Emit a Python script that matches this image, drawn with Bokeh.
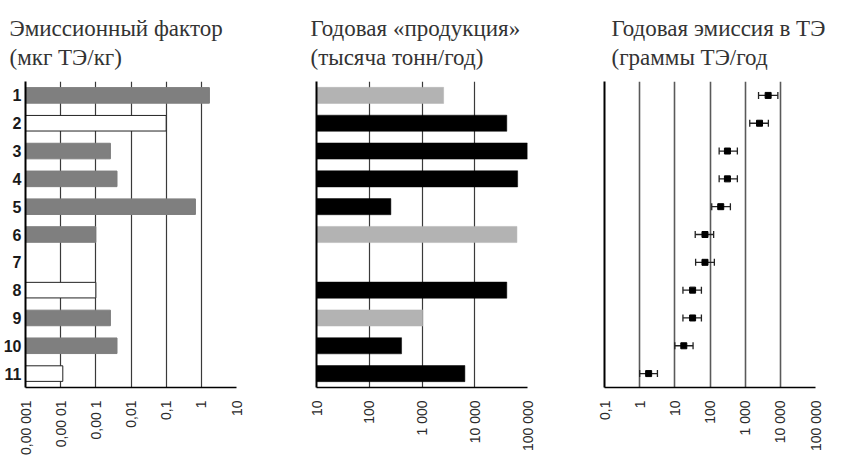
import math
from bokeh.plotting import figure
from bokeh.models import (ColumnDataSource, FixedTicker, Range1d, Title, Whisker,
                          TeeHead, CustomJSTickFormatter)
from bokeh.layouts import row
from bokeh.embed import file_html
from bokeh.resources import INLINE

# ---------------- data ----------------
rows = [1, 2, 3, 4, 5, 6, 7, 8, 9, 10, 11]

# Panel 1: emission factor (µg TEQ/kg)
ef_values = [1.7, 0.1, 0.0026, 0.004, 0.68, 0.001, None, 0.001, 0.0026, 0.004, 0.000115]
ef_kind = ["filled", "open", "filled", "filled", "filled", "filled", None,
           "open", "filled", "filled", "open"]

# Panel 2: annual production (thousand t/year)
prod_values = [2570, 40500, 100000, 65000, 257, 63000, None, 40500, 1035, 410, 6500]
prod_kind = ["light", "dark", "dark", "dark", "dark", "light", None,
             "dark", "light", "dark", "dark"]

# Panel 3: annual emission (g TEQ/year) with ranges
em_center = [4500, 2560, 313, 313, 202, 72, 72, 32, 32, 18, 1.8]
em_low = [2400, 1350, 182, 182, 112, 38, 39, 17, 17, 10, 1.0]
em_high = [8500, 4570, 600, 600, 380, 127, 133, 57, 57, 33, 3.2]

ef_ticks = [1e-5, 1e-4, 1e-3, 1e-2, 1e-1, 1, 10]
ef_tick_labels = ["0,00 001", "0,00 01", "0,00 1", "0,01", "0,1", "1", "10"]
prod_ticks = [10, 100, 1000, 10000, 100000]
prod_tick_labels = ["10", "100", "1 000", "10 000", "100 000"]
em_ticks = [0.1, 1, 10, 100, 1000, 10000, 100000]
em_tick_labels = ["0,1", "1", "10", "100", "1 000", "10 000", "100 000"]

titles = [("Эмиссионный фактор", "(мкг ТЭ/кг)"),
          ("Годовая «продукция»", "(тысяча тонн/год)"),
          ("Годовая эмиссия в ТЭ", "(граммы ТЭ/год")]

TITLE_FONT = "Liberation Serif"
SANS = "Liberation Sans"
FIG_H = 461


def make_fig(width, bl, br, ticks, labels, title_lines, title_offset, grid_color, grid_width):
    p = figure(width=width, height=FIG_H, x_axis_type="log",
               x_range=Range1d(ticks[0], ticks[-1]), y_range=Range1d(11.5, 0.5),
               output_backend="svg", toolbar_location=None,
               min_border_left=bl, min_border_right=br,
               min_border_top=81, min_border_bottom=74)
    p.outline_line_color = None
    p.xaxis.ticker = FixedTicker(ticks=ticks)
    p.xaxis.formatter = CustomJSTickFormatter(args=dict(tv=ticks, tl=labels), code="""
        for (let i = 0; i < tv.length; i++) {
            if (Math.abs(Math.log10(tv[i]) - Math.log10(tick)) < 1e-6) return tl[i];
        }
        return '';
    """)
    p.xaxis.major_label_orientation = math.pi / 2
    p.xaxis.major_label_standoff = 13
    p.xaxis.major_label_text_font = SANS
    p.xaxis.major_label_text_font_size = "14px"
    p.xaxis.major_label_text_color = "#2a2a2a"
    p.xaxis.major_tick_out = 0
    p.xaxis.major_tick_in = 0
    p.xaxis.minor_tick_out = 0
    p.xaxis.minor_tick_in = 0
    p.xaxis.axis_line_color = "black"
    p.xaxis.axis_line_width = 1.5
    p.xgrid.ticker = FixedTicker(ticks=ticks)
    p.xgrid.grid_line_color = grid_color
    p.xgrid.grid_line_width = grid_width
    p.ygrid.visible = False
    p.yaxis.major_tick_out = 0
    p.yaxis.major_tick_in = 0
    p.yaxis.minor_tick_out = 0
    p.yaxis.minor_tick_in = 0
    p.yaxis.axis_line_color = "black"
    p.yaxis.axis_line_width = 2
    p.add_layout(Title(text=title_lines[0] + "\n" + title_lines[1], align="left",
                       offset=title_offset, text_font=TITLE_FONT, text_font_size="23px",
                       text_line_height=1.17,
                       text_font_style="normal", text_color="#333333", standoff=23), "above")
    return p


# ---------------- panel 1 ----------------
p1 = make_fig(298, 25, 62, ef_ticks, ef_tick_labels, titles[0], -16, "#3a3a3a", 1.2)
p1.yaxis.ticker = FixedTicker(ticks=rows)
p1.yaxis.major_label_text_font = SANS
p1.yaxis.major_label_text_font_style = "bold"
p1.yaxis.major_label_text_font_size = "16px"
p1.yaxis.major_label_text_color = "#1a1a1a"
p1.yaxis.major_label_standoff = 4

ef_fill = {"filled": "#7f7f7f", "open": "white"}
ef_line = {"filled": "#7f7f7f", "open": "#222222"}
r1 = [(r, v, k) for r, v, k in zip(rows, ef_values, ef_kind) if v is not None]
src1 = ColumnDataSource(dict(
    y=[a[0] for a in r1], right=[a[1] for a in r1],
    left=[ef_ticks[0]] * len(r1),
    fill=[ef_fill[a[2]] for a in r1], line=[ef_line[a[2]] for a in r1]))
p1.hbar(y="y", left="left", right="right", height=0.56, source=src1,
        fill_color="fill", line_color="line", line_width=1)

# ---------------- panel 2 ----------------
p2 = make_fig(290, 18, 61, prod_ticks, prod_tick_labels, titles[1], -6, "#3a3a3a", 1.2)
p2.yaxis.ticker = FixedTicker(ticks=[])
p2.yaxis.major_label_text_font_size = "0px"
p2.yaxis.major_label_standoff = 0

prod_fill = {"light": "#b3b3b3", "dark": "#000000"}
r2 = [(r, v, k) for r, v, k in zip(rows, prod_values, prod_kind) if v is not None]
src2 = ColumnDataSource(dict(
    y=[a[0] for a in r2], right=[a[1] for a in r2],
    left=[prod_ticks[0]] * len(r2),
    fill=[prod_fill[a[2]] for a in r2]))
p2.hbar(y="y", left="left", right="right", height=0.58, source=src2,
        fill_color="fill", line_color="fill", line_width=0.5)

# ---------------- panel 3 ----------------
p3 = make_fig(266, 16, 39, em_ticks, em_tick_labels, titles[2], 7, "#5a5a5a", 1.6)
p3.yaxis.ticker = FixedTicker(ticks=[])
p3.yaxis.major_label_text_font_size = "0px"
p3.yaxis.major_label_standoff = 0

src3 = ColumnDataSource(dict(y=rows, x=em_center, low=em_low, high=em_high))
p3.add_layout(Whisker(source=src3, base="y", lower="low", upper="high", dimension="width",
                      line_color="#222222", line_width=1.3,
                      lower_head=TeeHead(size=7, line_color="#222222", line_width=1.3),
                      upper_head=TeeHead(size=7, line_color="#222222", line_width=1.3)))
p3.scatter(x="x", y="y", source=src3, marker="square", size=6,
           fill_color="black", line_color="black")

layout = row(p1, p2, p3)
open("out.html", "w").write(file_html(layout, INLINE))
